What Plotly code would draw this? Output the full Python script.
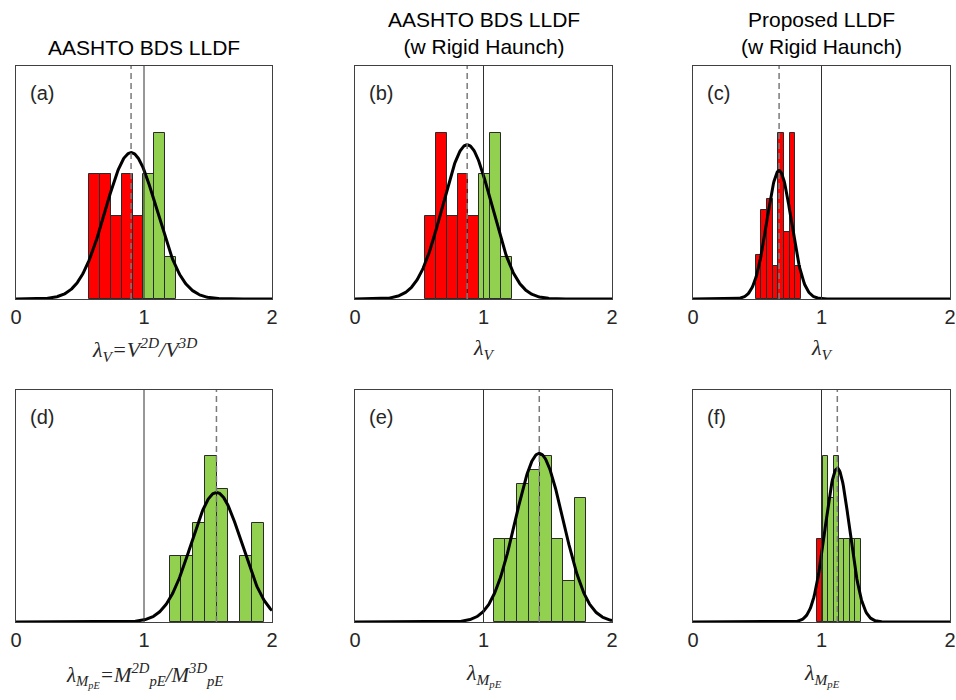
import numpy as np
import plotly.graph_objects as go

# ---------------- data ----------------
panel_tags = ["(a)", "(b)", "(c)", "(d)", "(e)", "(f)"]
column_titles = ["AASHTO BDS LLDF",
                 "AASHTO BDS LLDF<br>(w Rigid Haunch)",
                 "Proposed LLDF<br>(w Rigid Haunch)"]
x_labels = [
    "<i>λ<sub>V</sub>=V<sup>2D</sup>/V<sup>3D</sup></i>",
    "<i>λ<sub>V</sub></i>",
    "<i>λ<sub>V</sub></i>",
    "<i>λ<sub>M<sub>pE</sub></sub>=M<sup>2D</sup><sub>pE</sub>/M<sup>3D</sup><sub>pE</sub></i>",
    "<i>λ<sub>M<sub>pE</sub></sub></i>",
    "<i>λ<sub>M<sub>pE</sub></sub></i>",
]
x_tick_vals = [0, 1, 2]
x_tick_text = ["0", "1", "2"]

counts_a = [3, 3, 2, 3, 2, 3, 4, 1]
counts_b = [2, 4, 2, 3, 2, 3, 4, 1]
counts_c = [4, 8, 9, 3, 15, 6, 15, 3]
counts_d = [2, 2, 3, 5, 4, 0, 2, 3]
counts_e = [6, 6, 10, 11, 12, 6, 3, 9]
counts_f = [2, 4, 3, 4, 2, 2, 2, 2]
all_counts = [counts_a, counts_b, counts_c, counts_d, counts_e, counts_f]

bin_start = [0.574, 0.545, 0.488, 1.200, 1.081, 0.967]
bin_width = [0.0844, 0.0845, 0.0439, 0.0919, 0.0899, 0.0423]
mean_vals = [0.899, 0.873, 0.670, 1.566, 1.434, 1.123]
std_vals = [0.201, 0.191, 0.0954, 0.197, 0.185, 0.0955]
ref_value = 1.0

# ---------------- style ----------------
RED = "#FF0000"
GREEN = "#92D050"
EDGE = "#2b2b2b"
FRAME = "#404040"
TXT = "#262626"
W, H = 956, 700

x_px = [(16, 272), (355, 612), (693, 950)]
y_px = [(66, 299), (390, 622)]

fig = go.Figure()
layout = dict(
    width=W, height=H, margin=dict(l=0, r=0, t=0, b=0, autoexpand=False),
    paper_bgcolor="white", plot_bgcolor="white", showlegend=False,
    bargap=0,
)
shapes = []
annotations = []

for i in range(6):
    row, col = divmod(i, 3)
    idx = "" if i == 0 else str(i + 1)
    xa, ya = "x" + idx, "y" + idx
    counts = np.array(all_counts[i], dtype=float)
    w = bin_width[i]
    centers = bin_start[i] + w * (np.arange(len(counts)) + 0.5)
    colors = [RED if c < ref_value else GREEN for c in centers]
    fig.add_trace(go.Bar(
        x=centers, y=counts, width=w, marker=dict(color=colors, line=dict(color=EDGE, width=1)),
        xaxis=xa, yaxis=ya, hoverinfo="skip"))
    n = counts.sum()
    xs = np.linspace(0, 2, 401)
    ys = n * w * np.exp(-0.5 * ((xs - mean_vals[i]) / std_vals[i]) ** 2) / (std_vals[i] * np.sqrt(2 * np.pi))
    fig.add_trace(go.Scatter(x=xs, y=ys, mode="lines", line=dict(color="black", width=3),
                             xaxis=xa, yaxis=ya, hoverinfo="skip"))
    ymax = 1.4 * counts.max()
    x0, x1 = x_px[col]
    y0, y1 = y_px[row]
    layout["xaxis" + idx] = dict(
        domain=[x0 / W, x1 / W], range=[0, 2], anchor=ya,
        showline=True, mirror=True, linecolor=FRAME, linewidth=1,
        showgrid=False, zeroline=False, ticks="",
        tickvals=x_tick_vals, ticktext=x_tick_text,
        tickfont=dict(family="Liberation Sans, Arial", size=20, color=TXT),
        ticklabelstandoff=0, automargin=False,
    )
    layout["yaxis" + idx] = dict(
        domain=[1 - y1 / H, 1 - y0 / H], range=[0, ymax], anchor=xa,
        showline=True, mirror=True, linecolor=FRAME, linewidth=1,
        showgrid=False, zeroline=False, showticklabels=False, ticks="", automargin=False,
    )
    shapes.append(dict(type="line", xref=xa, yref=ya + " domain", x0=ref_value, x1=ref_value,
                       y0=0, y1=1, line=dict(color="#303030", width=1), layer="above"))
    shapes.append(dict(type="line", xref=xa, yref=ya + " domain", x0=mean_vals[i], x1=mean_vals[i],
                       y0=0, y1=1, line=dict(color="#7a7a7a", width=1.5, dash="6px,4px"), layer="above"))
    annotations.append(dict(text=panel_tags[i], xref=xa + " domain", yref=ya + " domain",
                            x=12 / 256, y=(233 - 27) / 233, xanchor="left", yanchor="middle",
                            showarrow=False, font=dict(family="Liberation Sans, Arial", size=20, color=TXT)))
    lab_y = 349 if row == 0 else 675
    lab_size = 21 if i == 3 else 22
    annotations.append(dict(text=x_labels[i], xref="paper", yref="paper",
                            x=(x0 + x1) / 2 / W, y=1 - lab_y / H, xanchor="center", yanchor="middle",
                            showarrow=False, font=dict(family="Liberation Serif, Times New Roman", size=lab_size, color=TXT)))

for col in range(3):
    x0, x1 = x_px[col]
    cy = 47 if col == 0 else 33
    annotations.append(dict(text=column_titles[col], xref="paper", yref="paper",
                            x=(x0 + x1) / 2 / W, y=1 - cy / H, xanchor="center", yanchor="middle",
                            showarrow=False,
                            font=dict(family="Liberation Sans, Arial", size=21, color="black")))

layout["shapes"] = shapes
layout["annotations"] = annotations
fig.update_layout(**layout)
fig.write_html("out.html", config={"displayModeBar": False},
               post_script="document.body.style.margin='0px';document.body.style.overflow='hidden';")
